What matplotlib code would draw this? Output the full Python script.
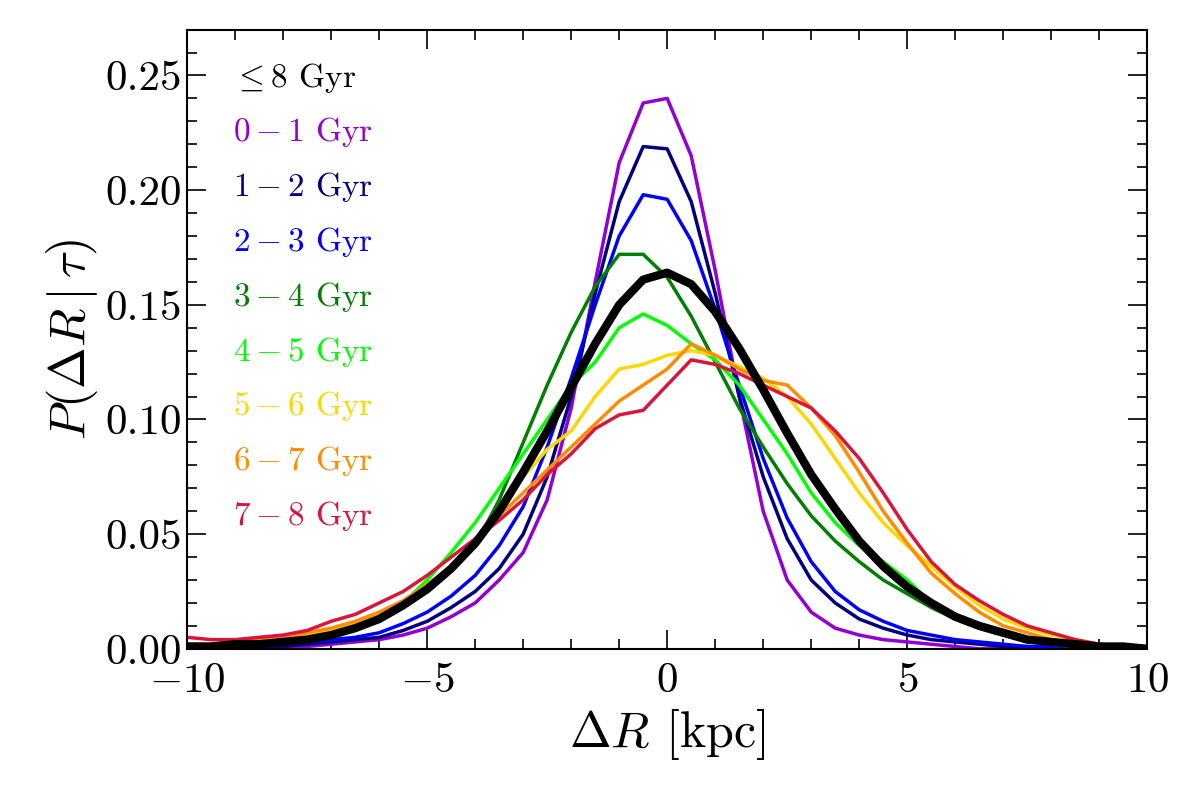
import numpy as np
import matplotlib
matplotlib.use("Agg")
import matplotlib.pyplot as plt
from matplotlib.ticker import MultipleLocator

plt.rcParams['font.family'] = 'serif'
plt.rcParams['font.serif'] = ['cmr10']
plt.rcParams['mathtext.fontset'] = 'cm'
plt.rcParams['axes.formatter.use_mathtext'] = True

x = np.arange(-10, 10.01, 0.5)

all_age = [0.001,0.001,0.002,0.002,0.003,0.004,0.006,0.009,0.013,0.019,0.026,0.035,0.046,0.060,0.077,0.095,0.114,0.133,0.150,0.161,0.164,0.159,0.147,0.131,0.113,0.094,0.076,0.061,0.047,0.036,0.027,0.020,0.014,0.010,0.007,0.004,0.003,0.002,0.001,0.001,0.0]
a01 = [0,0,0,0,0.001,0.001,0.002,0.003,0.004,0.006,0.009,0.014,0.020,0.030,0.042,0.065,0.105,0.160,0.212,0.238,0.240,0.215,0.165,0.110,0.060,0.030,0.016,0.009,0.006,0.004,0.003,0.002,0.001,0,0,0,0,0,0,0,0]
a12 = [0,0,0,0.001,0.001,0.002,0.003,0.004,0.005,0.008,0.012,0.018,0.025,0.035,0.050,0.075,0.110,0.155,0.195,0.219,0.218,0.195,0.155,0.110,0.075,0.048,0.030,0.020,0.013,0.009,0.006,0.004,0.003,0.002,0.001,0.001,0,0,0,0,0]
a23 = [0,0,0.001,0.001,0.002,0.003,0.004,0.005,0.007,0.011,0.016,0.023,0.032,0.045,0.062,0.088,0.118,0.150,0.180,0.198,0.196,0.178,0.148,0.115,0.083,0.057,0.038,0.025,0.017,0.012,0.008,0.006,0.004,0.003,0.002,0.001,0.001,0,0,0,0]
a34 = [0,0.001,0.001,0.002,0.003,0.004,0.006,0.009,0.012,0.018,0.025,0.034,0.045,0.065,0.090,0.115,0.138,0.158,0.172,0.172,0.162,0.145,0.125,0.105,0.088,0.072,0.058,0.047,0.038,0.030,0.024,0.018,0.013,0.009,0.006,0.004,0.002,0.001,0.001,0,0]
a45 = [0,0.001,0.001,0.002,0.003,0.004,0.006,0.009,0.013,0.020,0.030,0.042,0.055,0.070,0.085,0.100,0.115,0.125,0.140,0.146,0.141,0.133,0.126,0.115,0.100,0.085,0.068,0.055,0.045,0.038,0.030,0.020,0.013,0.009,0.006,0.004,0.002,0.001,0.001,0,0]
a56 = [0.001,0.001,0.002,0.003,0.004,0.006,0.008,0.011,0.015,0.021,0.028,0.036,0.045,0.060,0.075,0.087,0.095,0.110,0.122,0.124,0.128,0.130,0.128,0.123,0.118,0.110,0.098,0.083,0.068,0.055,0.045,0.036,0.027,0.019,0.013,0.009,0.006,0.004,0.002,0.001,0]
a67 = [0.002,0.002,0.003,0.004,0.005,0.007,0.009,0.012,0.016,0.021,0.028,0.036,0.045,0.058,0.068,0.078,0.088,0.098,0.108,0.115,0.122,0.133,0.128,0.122,0.117,0.115,0.105,0.093,0.077,0.060,0.046,0.033,0.024,0.016,0.010,0.007,0.004,0.002,0.001,0.001,0]
a78 = [0.005,0.004,0.004,0.005,0.006,0.008,0.012,0.015,0.020,0.025,0.032,0.040,0.048,0.056,0.065,0.076,0.085,0.096,0.102,0.104,0.115,0.126,0.124,0.120,0.115,0.110,0.105,0.095,0.083,0.068,0.052,0.038,0.028,0.021,0.015,0.010,0.007,0.004,0.002,0.001,0]

series = [a01, a12, a23, a34, a45, a56, a67, a78]
colors = ['darkviolet', 'navy', 'blue', 'green', 'lime', 'gold', 'darkorange', 'crimson']
labels = [r'$0-1$ Gyr', r'$1-2$ Gyr', r'$2-3$ Gyr', r'$3-4$ Gyr', r'$4-5$ Gyr',
          r'$5-6$ Gyr', r'$6-7$ Gyr', r'$7-8$ Gyr']

fig = plt.figure(figsize=(12, 8), dpi=100)
ax = fig.add_axes([0.156, 0.189, 0.800, 0.774])
for s, c in zip(series, colors):
    ax.plot(x, s, color=c, lw=2.5)
ax.plot(x, all_age, color='black', lw=6)

ax.set_xlim(-10, 10)
ax.set_ylim(0, 0.27)
ax.xaxis.set_major_locator(MultipleLocator(5))
ax.xaxis.set_minor_locator(MultipleLocator(1))
ax.yaxis.set_major_locator(MultipleLocator(0.05))
ax.yaxis.set_minor_locator(MultipleLocator(0.01))
ax.yaxis.set_major_formatter(matplotlib.ticker.FormatStrFormatter('%.2f'))
ax.tick_params(which='both', direction='in', top=True, right=True, labelsize=31, width=1.2)
ax.tick_params(which='major', length=14)
ax.tick_params(which='minor', length=7)
ax.tick_params(axis='x', pad=10)
for sp in ax.spines.values():
    sp.set_linewidth(1.5)
ax.set_xlabel(r'$\Delta R$ [kpc]', fontsize=36)
ax.set_ylabel(r'$P(\Delta R\mid\tau)$', fontsize=36)

ax.text(0.048, 0.922, r'$\leq 8$ Gyr', transform=ax.transAxes, fontsize=24, color='black', va='center')
for i, (lab, c) in enumerate(zip(labels, colors)):
    ax.text(0.048, 0.834 - i * 0.0885, lab, transform=ax.transAxes, fontsize=24, color=c, va='center')

fig.savefig('out.png', dpi=100)
